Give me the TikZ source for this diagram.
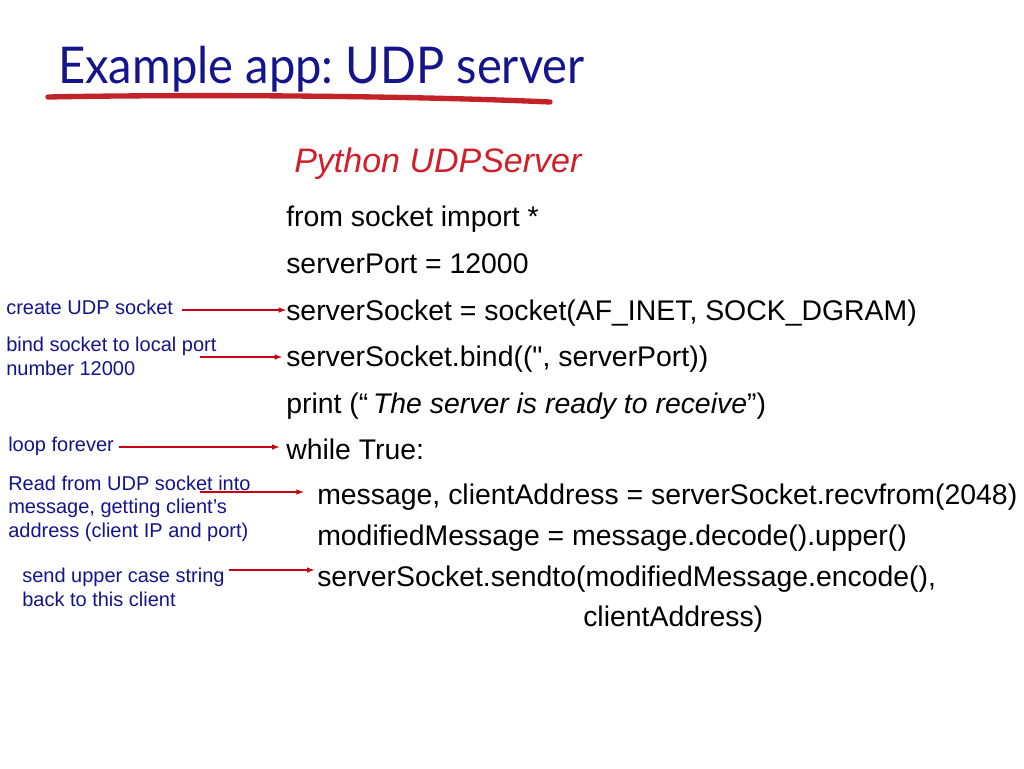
\documentclass[tikz,border=0pt]{standalone}
\usepackage{fontspec}
\setmainfont{Liberation Sans}[Ligatures=TeXOff]
\newfontfamily\titlefont{Lato}
\usepackage{tikz}
\usetikzlibrary{arrows,positioning}
\usepackage{xcolor}
\definecolor{slnavy}{RGB}{20,20,140}
\definecolor{slred}{RGB}{210,30,40}
\definecolor{slunder}{RGB}{195,35,40}
\definecolor{slarrow}{RGB}{200,0,20}
\tikzstyle{arrow} = [->,>=latex,line width=0.9pt,color=slarrow]
\tikzstyle{code} = [anchor=base west, inner sep=0pt, font=\fontsize{21.3}{25}\selectfont]
\tikzstyle{note} = [anchor=base west, inner sep=0pt, align=left, text=slnavy, font=\fontsize{15}{17.3}\selectfont]

\begin{document}
\begin{tikzpicture}[x=0.75pt,y=-0.75pt]
\fill[white] (0,0) rectangle (1024,768);
\useasboundingbox (0,0) rectangle (1024,768);

% Title with hand drawn underline
\node[anchor=base west, inner sep=0pt, text=slnavy, font=\titlefont\fontsize{38}{44}\selectfont, xscale=0.93, transform shape] (title) at (58,83) {Example app:\ UDP server};
\draw[slunder, line width=4pt, line cap=round] (48,97) .. controls (200,94) and (420,96) .. (550,102);

% Code listing
\node[anchor=base west, inner sep=0pt, text=slred, font=\fontsize{25.5}{30}\selectfont\itshape] (lang) at (294,172) {Python UDPServer};
\node[code] (lnImport) at (286,226) {from socket import *};
\node[code] (lnPort) at (286,273) {serverPort = 12000};
\node[code] (lnSocket) at (286,320) {serverSocket = socket(AF\_INET, SOCK\_DGRAM)};
\node[code] (lnBind) at (286,366) {serverSocket.bind((", serverPort))};
\node[code] (lnPrint) at (286,413) {print (“\,\textit{The server is ready to receive}”)};
\node[code] (lnWhile) at (286,459) {while True:};
\node[code] (lnRecv) at (317,504) {message, clientAddress = serverSocket.recvfrom(2048)};
\node[code] (lnUpper) at (317,545) {modifiedMessage = message.decode().upper()};
\node[code] (lnSend) at (317,586) {serverSocket.sendto(modifiedMessage.encode(),};
\node[code] (lnAddr) at (583,626) {clientAddress)};

% Notes on the left
\node[note] (nCreate) at (6,314) {create UDP socket};
\node[note] (nBind) at (6,375) {bind socket to local port\\number 12000};
\node[note] (nLoop) at (8,451) {loop forever};
\node[note] (nRead) at (8,537) {Read from UDP socket into\\message, getting client’s\\address (client IP and port)};
\node[note] (nSend) at (22,606) {send upper case string\\back to this client};

% Arrows
\coordinate (aCreate) at (182,310);
\coordinate (aBind) at (200,357);
\coordinate (aLoop) at (119,447);
\coordinate (aRead) at (200,492);
\coordinate (aSend) at (229,570);
\draw[arrow] (aCreate) -- (aCreate -| lnSocket.west);
\draw[arrow, shorten >=3pt] (aBind) -- (aBind -| lnBind.west);
\draw[arrow, shorten >=5pt] (aLoop) -- (aLoop -| lnWhile.west);
\draw[arrow, shorten >=10pt] (aRead) -- (aRead -| lnRecv.west);
\draw[arrow, shorten >=2pt] (aSend) -- (aSend -| lnSend.west);
\end{tikzpicture}
\end{document}
